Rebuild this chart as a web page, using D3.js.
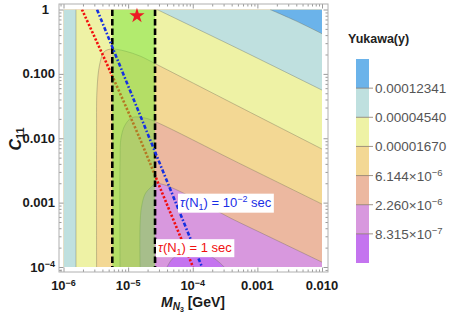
<!DOCTYPE html>
<html>
<head>
<meta charset="utf-8">
<script src="https://cdn.jsdelivr.net/npm/d3@7"></script>
<style>
  body { margin: 0; background: #fff; }
  svg { font-family: "Liberation Sans", Arial, sans-serif; display: block; }
</style>
</head>
<body>
<div id="chart"></div>
<script>
// Yukawa contour levels (e^-14 ... e^-9)
const levels = [8.315e-7, 2.26e-6, 6.144e-6, 1.67e-5, 4.54e-5, 1.2341e-4];
const levelLabels = ['8.315×10^-7', '2.260×10^-6', '6.144×10^-6', '0.00001670', '0.00004540', '0.00012341'];
// band colours, lowest band first
const bandColors = ['#c474ef', '#d898de', '#ecb8a0', '#f3d894', '#eef2a5', '#bfe0df', '#6bb3ea'];

// contour lines, as [M_N3, C11]
const contourE9 = [[1.57e-3, 1], [4.0e-3, 0.66], [1e-2, 0.42]];
const contourE10Left = [[1.56e-6, 1e-4], [1.56e-6, 1]];
const contourE10Right = [[2.8e-5, 1], [5.3e-4, 0.24], [1e-2, 0.056]];
const contourE11 = [
  [3.25e-6, 1e-4], [3.25e-6, 9.4e-3], [3.3e-6, 0.0561], [3.61e-6, 0.137], [4.24e-6, 0.219],
  [5.43e-6, 0.243], [8.95e-6, 0.226], [1.53e-5, 0.189], [2.7e-5, 0.142], [5.2e-4, 0.031], [1e-2, 6.8e-3]
];
const contourE12 = [
  [7.5e-6, 1e-4], [7.5e-6, 4.58e-3], [7.76e-6, 0.01007], [8.95e-6, 0.016], [1.15e-5, 0.021],
  [1.83e-5, 0.0206], [2.7e-5, 0.0179], [5.2e-4, 4.1e-3], [1e-2, 9.5e-4]
];
const contourE13 = [
  [1.53e-5, 1e-4], [1.53e-5, 4.48e-4], [1.61e-5, 8.53e-4], [1.83e-5, 1.36e-3], [2.18e-5, 1.68e-3],
  [2.8e-5, 1.98e-3], [5.3e-4, 4.9e-4], [1e-2, 1.19e-4]
];
const contourE14 = [
  [4.0e-5, 1e-4], [4.96e-5, 1.37e-4], [7.08e-5, 1.56e-4], [1.12e-4, 1.64e-4],
  [1.85e-4, 1.48e-4], [2.55e-4, 1.19e-4], [3.06e-4, 1e-4]
];

// lifetime curves tau(N1)
const tauOneSec = [[1.93e-6, 1], [5.5e-6, 0.1], [1.55e-5, 9.4e-3], [3.2e-5, 1.6e-3], [1.01e-4, 1e-4]];
const tauTenMs = [[3.3e-6, 1], [1.39e-4, 1e-4]];

// allowed band (dashed lines) and benchmark star
const bandMass = [5.69e-6, 2.61e-5];
const starPoint = [1.37e-5, 0.8];

const xTicks = [1e-6, 1e-5, 1e-4, 1e-3, 1e-2];
const xTickLabels = ['10^-6', '10^-5', '10^-4', '0.001', '0.010'];
const yTicks = [1e-4, 1e-3, 1e-2, 0.1, 1];
const yTickLabels = ['10^-4', '0.001', '0.010', '0.100', '1'];

const W = 457, H = 318;
const frame = { left: 59, right: 328, top: 4, bottom: 272 };

const svg = d3.select('#chart').append('svg').attr('width', W).attr('height', H);

const x = d3.scaleLog().domain([1e-6, 1e-2]).range([63.5, 322]);
const y = d3.scaleLog().domain([1e-4, 1]).range([267, 9.5]);

// writes "base^sup" as text with a raised superscript
function richText(sel, str, supSize) {
  const parts = str.split('^');
  sel.append('tspan').text(parts[0]);
  if (parts[1]) {
    sel.append('tspan')
      .attr('font-size', supSize)
      .attr('dy', '-0.5em')
      .text(parts[1].replace('-', '−'));
  }
}

svg.append('defs').append('clipPath').attr('id', 'plot-clip')
  .append('rect')
  .attr('x', x(1e-6)).attr('y', y(1))
  .attr('width', x(1e-2) - x(1e-6)).attr('height', y(1e-4) - y(1));

const plot = svg.append('g').attr('clip-path', 'url(#plot-clip)');

const curve = d3.line()
  .x((d) => x(d[0]))
  .y((d) => y(d[1]))
  .curve(d3.curveCatmullRom.alpha(0.5));

const region = (pts, corners) =>
  curve(pts) + corners.map((c) => `L${x(c[0])},${y(c[1])}`).join('') + 'Z';

const leftCorners = [[1e-2, 1], [1e-6, 1], [1e-6, 1e-4]];

// painter order: lowest band first, then each superlevel set
plot.append('rect')
  .attr('x', x(1e-6)).attr('y', y(1))
  .attr('width', x(1e-2) - x(1e-6)).attr('height', y(1e-4) - y(1))
  .attr('fill', bandColors[1]);

const regions = [
  { d: region(contourE14, []), fill: bandColors[0] },
  { d: region(contourE13, leftCorners), fill: bandColors[2] },
  { d: region(contourE12, leftCorners), fill: bandColors[3] },
  { d: region(contourE11, leftCorners), fill: bandColors[4] },
  { d: region(contourE10Left, [[1e-6, 1], [1e-6, 1e-4]]), fill: bandColors[5] },
  { d: region(contourE10Right, [[1e-2, 1]]), fill: bandColors[5] },
  { d: region(contourE9, [[1e-2, 1]]), fill: bandColors[6] },
];

plot.selectAll('.band')
  .data(regions)
  .join('path')
  .attr('class', 'band')
  .attr('d', (d) => d.d)
  .attr('fill', (d) => d.fill);

// contour lines
plot.selectAll('.contour')
  .data([contourE14, contourE13, contourE12, contourE11, contourE10Left, contourE10Right, contourE9])
  .join('path')
  .attr('class', 'contour')
  .attr('d', (d) => curve(d))
  .attr('fill', 'none')
  .attr('stroke', '#6b6b5a')
  .attr('stroke-opacity', 0.55)
  .attr('stroke-width', 0.7);

// tau = 1 sec (drawn under the green band)
plot.append('path')
  .attr('d', curve(tauOneSec))
  .attr('fill', 'none')
  .attr('stroke', '#f20d0d')
  .attr('stroke-width', 2.6)
  .attr('stroke-dasharray', '2.2,1.8');

// green allowed band
plot.append('rect')
  .attr('x', x(bandMass[0])).attr('y', y(1))
  .attr('width', x(bandMass[1]) - x(bandMass[0])).attr('height', y(1e-4) - y(1))
  .attr('fill', 'rgb(118,228,56)')
  .attr('fill-opacity', 0.5);

plot.selectAll('.band-edge')
  .data(bandMass)
  .join('line')
  .attr('class', 'band-edge')
  .attr('x1', (d) => x(d)).attr('x2', (d) => x(d))
  .attr('y1', y(1)).attr('y2', y(1e-4))
  .attr('stroke', '#000')
  .attr('stroke-width', 2.6)
  .attr('stroke-dasharray', '6.5,3');

// tau = 10^-2 sec
plot.append('path')
  .attr('d', curve(tauTenMs))
  .attr('fill', 'none')
  .attr('stroke', '#1530e0')
  .attr('stroke-width', 2.6)
  .attr('stroke-dasharray', '4,2,1.6,2');

// labels on white boxes
function boxedLabel(px, py, color, parts) {
  const g = svg.append('g');
  const box = g.append('rect').attr('fill', '#fff');
  const t = g.append('text').attr('x', px).attr('y', py)
    .attr('font-size', 13).attr('fill', color);
  parts.forEach((p) => {
    const s = t.append('tspan').text(p.text);
    if (p.style) s.attr('font-style', p.style);
    if (p.size) s.attr('font-size', p.size);
    if (p.dy) s.attr('dy', p.dy);
  });
  const bb = t.node().getBBox();
  box.attr('x', bb.x - 2).attr('y', bb.y - 0.5)
    .attr('width', bb.width + 4).attr('height', bb.height + 1);
}

boxedLabel(x(6.35e-5), y(8.5e-4), '#1a2ee6', [
  { text: 'τ', style: 'italic' }, { text: '(N' },
  { text: '1', size: 9, dy: 3 }, { text: ') = 10', dy: -3 },
  { text: '−2', size: 9, dy: -5 }, { text: ' sec', dy: 5 },
]);
boxedLabel(x(2.9e-5), y(1.73e-4), '#f01010', [
  { text: 'τ', style: 'italic' }, { text: '(N' },
  { text: '1', size: 9, dy: 3 }, { text: ') = 1 sec', dy: -3 },
]);

// benchmark star
svg.append('path')
  .attr('d', d3.symbol(d3.symbolStar).size(72)())
  .attr('transform', `translate(${x(starPoint[0])},${y(starPoint[1])})`)
  .attr('fill', '#ec1c24');

// frame and ticks
const xFrame = [x.invert(frame.left), x.invert(frame.right)];
const yFrame = [y.invert(frame.bottom), y.invert(frame.top)];
const minorOf = (lo, hi) => {
  const out = [];
  for (let e = -8; e <= 0; e++) {
    for (let k = 2; k <= 9; k++) {
      const v = k * Math.pow(10, e);
      if (v > lo && v < hi) out.push(v);
    }
  }
  return out;
};
const xMinor = minorOf(xFrame[0], xFrame[1]);
const yMinor = minorOf(yFrame[0], yFrame[1]);

const tickLayer = svg.append('g');
const axes = [
  { ax: d3.axisBottom, scale: x, t: `translate(0,${frame.bottom})`, major: xTicks, minor: xMinor },
  { ax: d3.axisTop, scale: x, t: `translate(0,${frame.top})`, major: xTicks, minor: xMinor },
  { ax: d3.axisLeft, scale: y, t: `translate(${frame.left},0)`, major: yTicks, minor: yMinor },
  { ax: d3.axisRight, scale: y, t: `translate(${frame.right},0)`, major: yTicks, minor: yMinor },
];
axes.forEach((a) => {
  [[a.major, -4.5], [a.minor, -2.5]].forEach(([vals, size]) => {
    const g = tickLayer.append('g').attr('transform', a.t)
      .call(a.ax(a.scale).tickValues(vals).tickSize(size).tickFormat(''));
    g.select('.domain').remove();
    g.selectAll('line').attr('stroke', '#9a9a9a');
  });
});

svg.append('rect')
  .attr('x', frame.left).attr('y', frame.top)
  .attr('width', frame.right - frame.left).attr('height', frame.bottom - frame.top)
  .attr('fill', 'none')
  .attr('stroke', '#b0b0b0')
  .attr('stroke-width', 1);

// tick labels
svg.append('g').selectAll('text')
  .data(xTicks)
  .join('text')
  .attr('x', (d) => x(d))
  .attr('y', 290)
  .attr('text-anchor', 'middle')
  .attr('font-size', 13)
  .attr('font-weight', 'bold')
  .attr('fill', '#1a1a1a')
  .each(function (d, i) { richText(d3.select(this), xTickLabels[i], 9); });

svg.append('g').selectAll('text')
  .data(yTicks)
  .join('text')
  .attr('x', (d, i) => (yTickLabels[i] === '1' ? 49 : 55))
  .attr('y', (d) => y(d) + 4.5)
  .attr('text-anchor', 'end')
  .attr('font-size', 13)
  .attr('font-weight', 'bold')
  .attr('fill', '#1a1a1a')
  .each(function (d, i) { richText(d3.select(this), yTickLabels[i], 9); });

// axis titles
const xTitle = svg.append('text')
  .attr('x', 193).attr('y', 307)
  .attr('text-anchor', 'middle')
  .attr('font-weight', 'bold')
  .attr('fill', '#1a1a1a')
  .attr('font-size', 14);
xTitle.append('tspan').attr('font-style', 'italic').text('M');
xTitle.append('tspan').attr('font-style', 'italic').attr('font-size', 10).attr('dy', 3).text('N');
xTitle.append('tspan').attr('font-size', 7).attr('dy', 2).text('3');
xTitle.append('tspan').attr('dy', -5).text(' [GeV]');

const yTitle = svg.append('text')
  .attr('transform', 'translate(21,139) rotate(-90)')
  .attr('text-anchor', 'middle')
  .attr('font-weight', 'bold')
  .attr('fill', '#1a1a1a')
  .attr('font-size', 16);
yTitle.append('tspan').attr('font-style', 'italic').text('C');
yTitle.append('tspan').attr('font-size', 11).attr('dy', 3).text('11');

// legend
const legendY = d3.scaleLinear().domain([0, bandColors.length]).range([263, 59]);
const legend = svg.append('g');

legend.append('text')
  .attr('x', 348).attr('y', 43)
  .attr('font-size', 12.5)
  .attr('font-weight', 'bold')
  .attr('fill', '#222')
  .text('Yukawa(y)');

legend.selectAll('rect')
  .data(bandColors)
  .join('rect')
  .attr('x', 356)
  .attr('y', (d, i) => legendY(i + 1))
  .attr('width', 13)
  .attr('height', (d, i) => legendY(i) - legendY(i + 1))
  .attr('fill', (d) => d);

legend.selectAll('line')
  .data(levels)
  .join('line')
  .attr('x1', 356).attr('x2', 373)
  .attr('y1', (d, i) => legendY(i + 1)).attr('y2', (d, i) => legendY(i + 1))
  .attr('stroke', '#8a7a6a')
  .attr('stroke-width', 0.8);

legend.selectAll('text.level')
  .data(levelLabels)
  .join('text')
  .attr('class', 'level')
  .attr('x', 375)
  .attr('y', (d, i) => legendY(i + 1) + 5)
  .attr('font-size', 13.5)
  .attr('fill', '#555')
  .each(function (d) { richText(d3.select(this), d, 9.5); });
</script>
</body>
</html>
